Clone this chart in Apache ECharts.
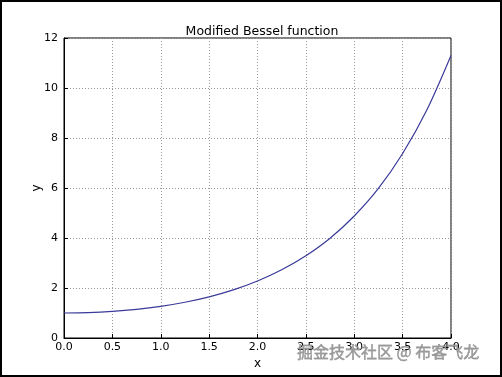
<!DOCTYPE html>
<html><head><meta charset="utf-8">
<script src="https://cdn.jsdelivr.net/npm/echarts@6/dist/echarts.min.js"></script>
<style>html,body{margin:0;padding:0;background:#fff}#c{width:502px;height:377px}</style>
</head><body><div id="c"></div>
<script>
var xValues = [0, 0.25, 0.5, 0.75, 1.0, 1.25, 1.5, 1.75, 2.0, 2.25, 2.5, 2.75, 3.0, 3.25, 3.5, 3.75, 4.0];
var yValues = [1.0, 1.016, 1.064, 1.146, 1.266, 1.43, 1.647, 1.925, 2.28, 2.727, 3.29, 3.992, 4.881, 5.982, 7.378, 9.119, 11.302];
var xTicks = [0, 0.5, 1.0, 1.5, 2.0, 2.5, 3.0, 3.5, 4.0];
var yTicks = [0, 2, 4, 6, 8, 10, 12];
var titleText = 'Modified Bessel function';
var watermark = '掘金技术社区 @ 布客飞龙';

var chart = echarts.init(document.getElementById('c'));
var font = 'DejaVu Sans';
var data = xValues.map(function (x, i) { return [x, yValues[i]]; });
chart.setOption({
  animation: false,
  backgroundColor: '#fff',
  title: { text: titleText, left: 257, top: 20, textAlign: 'center',
    textStyle: { fontFamily: font, fontSize: 12.5, fontWeight: 'normal', color: '#000' } },
  grid: { left: 64, right: 51, top: 38, bottom: 39, show: true, borderColor: '#000', borderWidth: 1, backgroundColor: 'transparent' },
  xAxis: {
    type: 'value', min: xTicks[0], max: xTicks[xTicks.length - 1], interval: 0.5,
    name: 'x', nameLocation: 'middle', nameGap: 20,
    nameTextStyle: { fontFamily: font, fontSize: 12, color: '#000' },
    axisLine: { lineStyle: { color: '#000', width: 1 } },
    axisTick: { inside: true, length: 4, lineStyle: { color: '#000' } },
    axisLabel: { fontFamily: font, fontSize: 11, color: '#000', margin: 4, formatter: function (v) { return v.toFixed(1); } },
    splitLine: { show: true, lineStyle: { color: '#999', type: [1, 2], width: 1 } }
  },
  yAxis: {
    type: 'value', min: yTicks[0], max: yTicks[yTicks.length - 1], interval: 2,
    name: 'y', nameLocation: 'middle', nameGap: 21, nameMoveOverlap: false,
    nameTextStyle: { fontFamily: font, fontSize: 12, color: '#000' },
    axisLine: { show: true, lineStyle: { color: '#000', width: 1 } },
    axisTick: { show: true, inside: true, length: 4, lineStyle: { color: '#000' } },
    axisLabel: { fontFamily: font, fontSize: 11, color: '#000', margin: 6 },
    splitLine: { show: true, lineStyle: { color: '#999', type: [1, 2], width: 1 } }
  },
  series: [{
    type: 'line', data: data, smooth: 0.3, showSymbol: false,
    lineStyle: { color: '#3a3a9a', width: 1.2 }
  }],
  graphic: [
    { type: 'rect', shape: { x: 1, y: 1, width: 500, height: 375 }, style: { fill: 'none', stroke: '#000', lineWidth: 2 }, silent: true, z: 100 },
    { type: 'text', x: 297, y: 344, style: { text: watermark, font: '16px "Noto Sans CJK SC"', fill: '#999', stroke: '#666', lineWidth: 0.3 }, silent: true, z: 100 }
  ]
});
</script></body></html>
